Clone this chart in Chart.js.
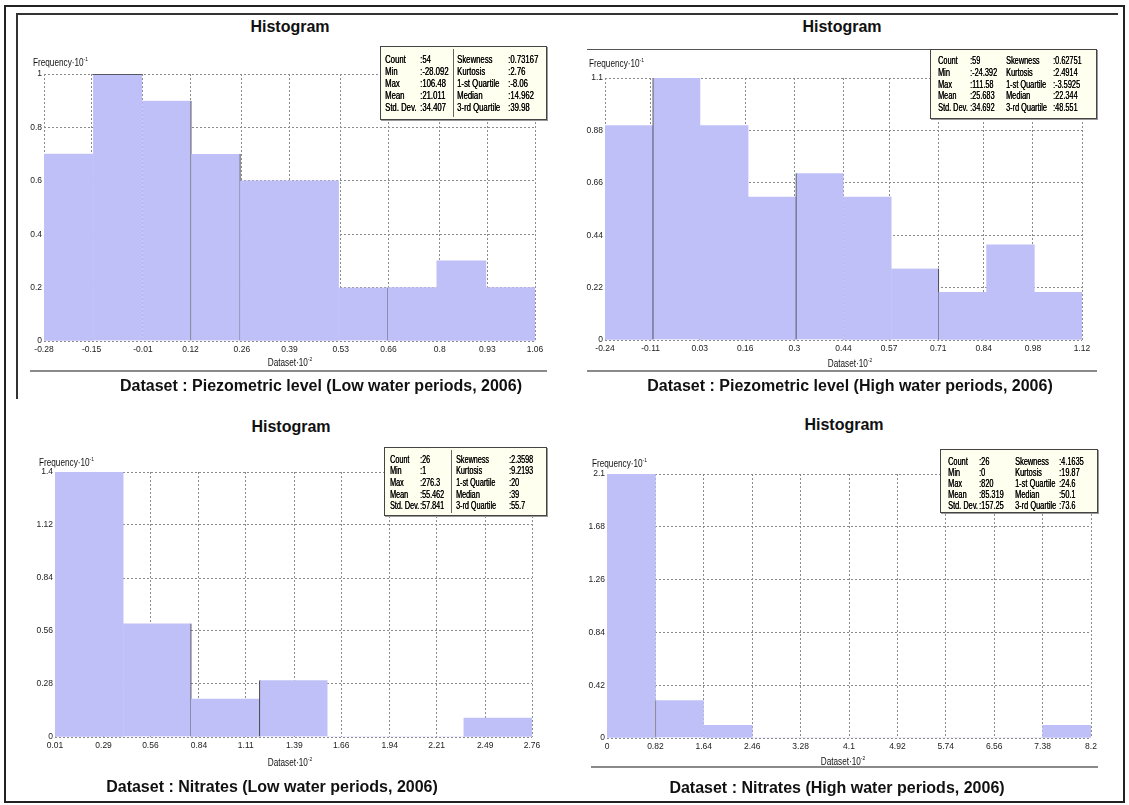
<!DOCTYPE html>
<html>
<head>
<meta charset="utf-8">
<script src="https://cdn.jsdelivr.net/npm/chart.js@4.4.1/dist/chart.umd.min.js"></script>
<style>
  html,body{margin:0;padding:0;background:#fff;}
  body{width:1129px;height:805px;position:relative;overflow:hidden;font-family:'Liberation Sans',Arial,sans-serif;}
  .abs{position:absolute;}
  .ctr{position:absolute;transform:translate(-50%,-50%);white-space:nowrap;}
  .title{font-weight:bold;font-size:16px;color:#111;}
  .caption{font-weight:bold;font-size:16px;color:#111;}
  .sq{color:#111;font-size:10px;white-space:nowrap;position:absolute;transform-origin:0 50%;}
  .sq sup{font-size:6px;vertical-align:5px;line-height:0;}
  .stats{position:absolute;background:#fffff0;border:1px solid #444;box-shadow:1px 1px 0 #999;box-sizing:border-box;color:#000;}
  .stats span{position:absolute;white-space:nowrap;transform-origin:0 50%;text-shadow:0.35px 0 0 #000;}
  .stats .div{position:absolute;top:2px;bottom:2px;width:0;border-left:1px solid #666;}
  canvas{position:absolute;}
</style>
</head>
<body>
<script>
// ---------- DATA ----------
const p1XTicks = ['-0.28','-0.15','-0.01','0.12','0.26','0.39','0.53','0.66','0.8','0.93','1.06'];
const p1YTicks = ['0','0.2','0.4','0.6','0.8','1'];
const p1Freq   = [0.7, 1.0, 0.9, 0.7, 0.6, 0.6, 0.2, 0.2, 0.3, 0.2];
const p1Stats  = [['Count',':54','Skewness',':0.73167'],['Min',':-28.092','Kurtosis',':2.76'],['Max',':106.48','1-st Quartile',':-8.06'],['Mean',':21.011','Median',':14.962'],['Std. Dev.',':34.407','3-rd Quartile',':39.98']];
const p1Caption = 'Dataset : Piezometric level (Low water periods, 2006)';

const p2XTicks = ['-0.24','-0.11','0.03','0.16','0.3','0.44','0.57','0.71','0.84','0.98','1.12'];
const p2YTicks = ['0','0.22','0.44','0.66','0.88','1.1'];
const p2Freq   = [0.9, 1.1, 0.9, 0.6, 0.7, 0.6, 0.3, 0.2, 0.4, 0.2];
const p2Stats  = [['Count',':59','Skewness',':0.62751'],['Min',':-24.392','Kurtosis',':2.4914'],['Max',':111.58','1-st Quartile',':-3.5925'],['Mean',':25.683','Median',':22.344'],['Std. Dev.',':34.692','3-rd Quartile',':48.551']];
const p2Caption = 'Dataset : Piezometric level (High water periods, 2006)';

const p3XTicks = ['0.01','0.29','0.56','0.84','1.11','1.39','1.66','1.94','2.21','2.49','2.76'];
const p3YTicks = ['0','0.28','0.56','0.84','1.12','1.4'];
const p3Freq   = [1.4, 0.6, 0.2, 0.3, 0, 0, 0.1];
const p3Stats  = [['Count',':26','Skewness',':2.3598'],['Min',':1','Kurtosis',':9.2193'],['Max',':276.3','1-st Quartile',':20'],['Mean',':55.462','Median',':39'],['Std. Dev.',':57.841','3-rd Quartile',':55.7']];
const p3Caption = 'Dataset : Nitrates (Low water periods, 2006)';

const p4XTicks = ['0','0.82','1.64','2.46','3.28','4.1','4.92','5.74','6.56','7.38','8.2'];
const p4YTicks = ['0','0.42','0.84','1.26','1.68','2.1'];
const p4Freq   = [2.1, 0.3, 0.1, 0, 0, 0, 0, 0, 0, 0.1];
const p4Stats  = [['Count',':26','Skewness',':4.1635'],['Min',':0','Kurtosis',':19.87'],['Max',':820','1-st Quartile',':24.6'],['Mean',':85.319','Median',':50.1'],['Std. Dev.',':157.25','3-rd Quartile',':73.6']];
const p4Caption = 'Dataset : Nitrates (High water periods, 2006)';

const chartTitle = 'Histogram';
const yAxisName = 'Frequency·10';
const yAxisExp = '-1';
const xAxisName = 'Dataset·10';
const xAxisExp = '-2';

// ---------- LAYOUT / STYLE ----------
const LAYOUT = {
  p1:{plot:[44,74,535,341], title:[290,27], freq:[33,62], axis:[290,362], caption:[321,386], sep:[30,371,547],
      edges:[[1,'top','#333'],[2,'right','#333'],[3,'right','#333'],[6,'right','#333']],
      box:{x:380,y:46,w:167,h:74,rowH:12,pad:6,fs:10.5,sx:0.74,cols:[4,39,76,127],divider:72}},
  p2:{plot:[605,78,1082,340], title:[842,27], freq:[589,63], axis:[850,363], caption:[850,386], sep:[587,371,1097], frame:[587,49,1097],
      edges:[[1,'left','#333'],[4,'left','#333'],[6,'right','#333']],
      box:{x:930,y:49,w:167,h:70,rowH:11.8,pad:5,fs:10.5,sx:0.7,cols:[7,39,75,122]}},
  p3:{plot:[55,472,532,737], title:[291,427], freq:[39,462], axis:[290,762], caption:[272,787],
      edges:[[1,'right','#333'],[3,'left','#333']],
      box:{x:384,y:447,w:163,h:69,rowH:11.7,pad:5.5,fs:10.3,sx:0.7,cols:[5,35,71,124],divider:66}},
  p4:{plot:[607,474,1091,738], title:[844,425], freq:[592,463], axis:[843,761], caption:[837,788], sep:[591,767,1098],
      edges:[[1,'left','#888']],
      box:{x:940,y:449,w:158,h:64,rowH:11,pad:5.5,fs:10,sx:0.74,cols:[7,38,74,118]}}
};

const BAR_COLOR = 'rgb(192,192,248)';
const GRID_COLOR = '#8a8a8a';
const TICK_FONT = "'Liberation Sans',Arial,sans-serif";

function el(tag, cls, html, style){
  const e=document.createElement(tag); if(cls) e.className=cls; if(html!==undefined) e.innerHTML=html;
  Object.assign(e.style, style||{}); document.body.appendChild(e); return e;
}
function line(x1,y1,x2,y2,color,w){
  const horiz = y1===y2;
  el('div','abs',undefined,{left:x1+'px',top:(y1-w/2)+'px',width:(horiz?(x2-x1):w)+'px',height:(horiz?w:(y2-y1))+'px',background:color});
}

// frames
el('div','abs',undefined,{left:'4px',top:'5px',width:'1121px',height:'798px',border:'2px solid #222',boxSizing:'border-box'});
line(16,14,1118,14,'#333',1.5);
line(16,14,16,400,'#333',1.5);

function statsBox(stats,g){
  const b=el('div','stats',undefined,{left:g.x+'px',top:g.y+'px',width:g.w+'px',height:g.h+'px',fontSize:g.fs+'px'});
  stats.forEach((row,r)=>row.forEach((t,c)=>{
    const s=document.createElement('span'); s.textContent=t;
    s.style.left=g.cols[c]+'px'; s.style.top=(g.pad+r*g.rowH)+'px'; s.style.lineHeight=g.rowH+'px';
    s.style.transform='scaleX('+g.sx+')';
    b.appendChild(s);
  }));
  if(g.divider!==undefined){const d=document.createElement('div');d.className='div';d.style.left=g.divider+'px';b.appendChild(d);}
}

function panel(L, xTicks, yTicks, freq, stats, caption){
  const [pl,pt,pr,pb]=L.plot;
  const YW=40, XH=22, PT=10, PR=22;
  const cv=document.createElement('canvas');
  const W=(pr-pl)+YW+PR, H=(pb-pt)+PT+XH;
  cv.width=W; cv.height=H;
  cv.style.left=(pl-YW)+'px'; cv.style.top=(pt-PT)+'px';
  cv.style.width=W+'px'; cv.style.height=H+'px';
  document.body.appendChild(cv);

  const xv = xTicks.map(Number), yv = yTicks.map(Number);
  const xMin = xv[0], xMax = xv[xv.length-1];
  const bw = (xMax-xMin)/freq.length;
  const data = freq.map((v,i)=>({x:xMin+(i+0.5)*bw, y:v}));

  const bWidths = freq.map(()=>0), bColors = freq.map(()=>BAR_COLOR);
  (L.edges||[]).forEach(([i,side,col])=>{ const o={top:0,right:0,bottom:0,left:0}; o[side]=1; bWidths[i]=o; bColors[i]=col; });

  new Chart(cv,{
    type:'bar',
    data:{datasets:[{data, backgroundColor:BAR_COLOR, borderColor:bColors, borderWidth:bWidths, borderSkipped:false,
                     barThickness:'flex', categoryPercentage:1, barPercentage:1}]},
    options:{
      responsive:false, animation:false, devicePixelRatio:1,
      layout:{padding:{top:PT,right:PR,left:0,bottom:0}},
      plugins:{legend:{display:false},tooltip:{enabled:false},title:{display:false}},
      scales:{
        x:{type:'linear',min:xMin,max:xMax,offset:false,
           afterBuildTicks:s=>{s.ticks=xv.map(v=>({value:v}));},
           afterFit:s=>{s.height=XH;},
           ticks:{autoSkip:false,maxRotation:0,padding:4,color:'#222',font:{family:TICK_FONT,size:8.5},callback:(v,i)=>xTicks[i]},
           grid:{color:GRID_COLOR,lineWidth:1,drawTicks:false,offset:false},
           border:{display:false,dash:[2,2]}},
        y:{type:'linear',min:0,max:yv[yv.length-1],
           afterBuildTicks:s=>{s.ticks=yv.map(v=>({value:v}));},
           afterFit:s=>{s.width=YW;},
           ticks:{autoSkip:false,padding:2,color:'#222',font:{family:TICK_FONT,size:8.5},callback:(v,i)=>yTicks[i]},
           grid:{color:GRID_COLOR,lineWidth:1,drawTicks:false},
           border:{display:false,dash:[2,2]}}
      }
    }
  });

  el('div','ctr title',chartTitle,{left:L.title[0]+'px',top:L.title[1]+'px'});
  el('div','sq',yAxisName+'<sup>'+yAxisExp+'</sup>',{left:L.freq[0]+'px',top:L.freq[1]+'px',transform:'translateY(-50%) scaleX(0.82)'});
  el('div','sq',xAxisName+'<sup>'+xAxisExp+'</sup>',{left:L.axis[0]+'px',top:L.axis[1]+'px',transformOrigin:'50% 50%',transform:'translate(-50%,-50%) scaleX(0.82)'});
  el('div','ctr caption',caption,{left:L.caption[0]+'px',top:L.caption[1]+'px'});
  if(L.sep) line(L.sep[0],L.sep[1],L.sep[2],L.sep[1],'#8a8a8a',1.5);
  if(L.frame) line(L.frame[0],L.frame[1],L.frame[2],L.frame[1],'#555',1);
  statsBox(stats,L.box);
}

panel(LAYOUT.p1,p1XTicks,p1YTicks,p1Freq,p1Stats,p1Caption);
panel(LAYOUT.p2,p2XTicks,p2YTicks,p2Freq,p2Stats,p2Caption);
panel(LAYOUT.p3,p3XTicks,p3YTicks,p3Freq,p3Stats,p3Caption);
panel(LAYOUT.p4,p4XTicks,p4YTicks,p4Freq,p4Stats,p4Caption);
</script>
</body>
</html>
